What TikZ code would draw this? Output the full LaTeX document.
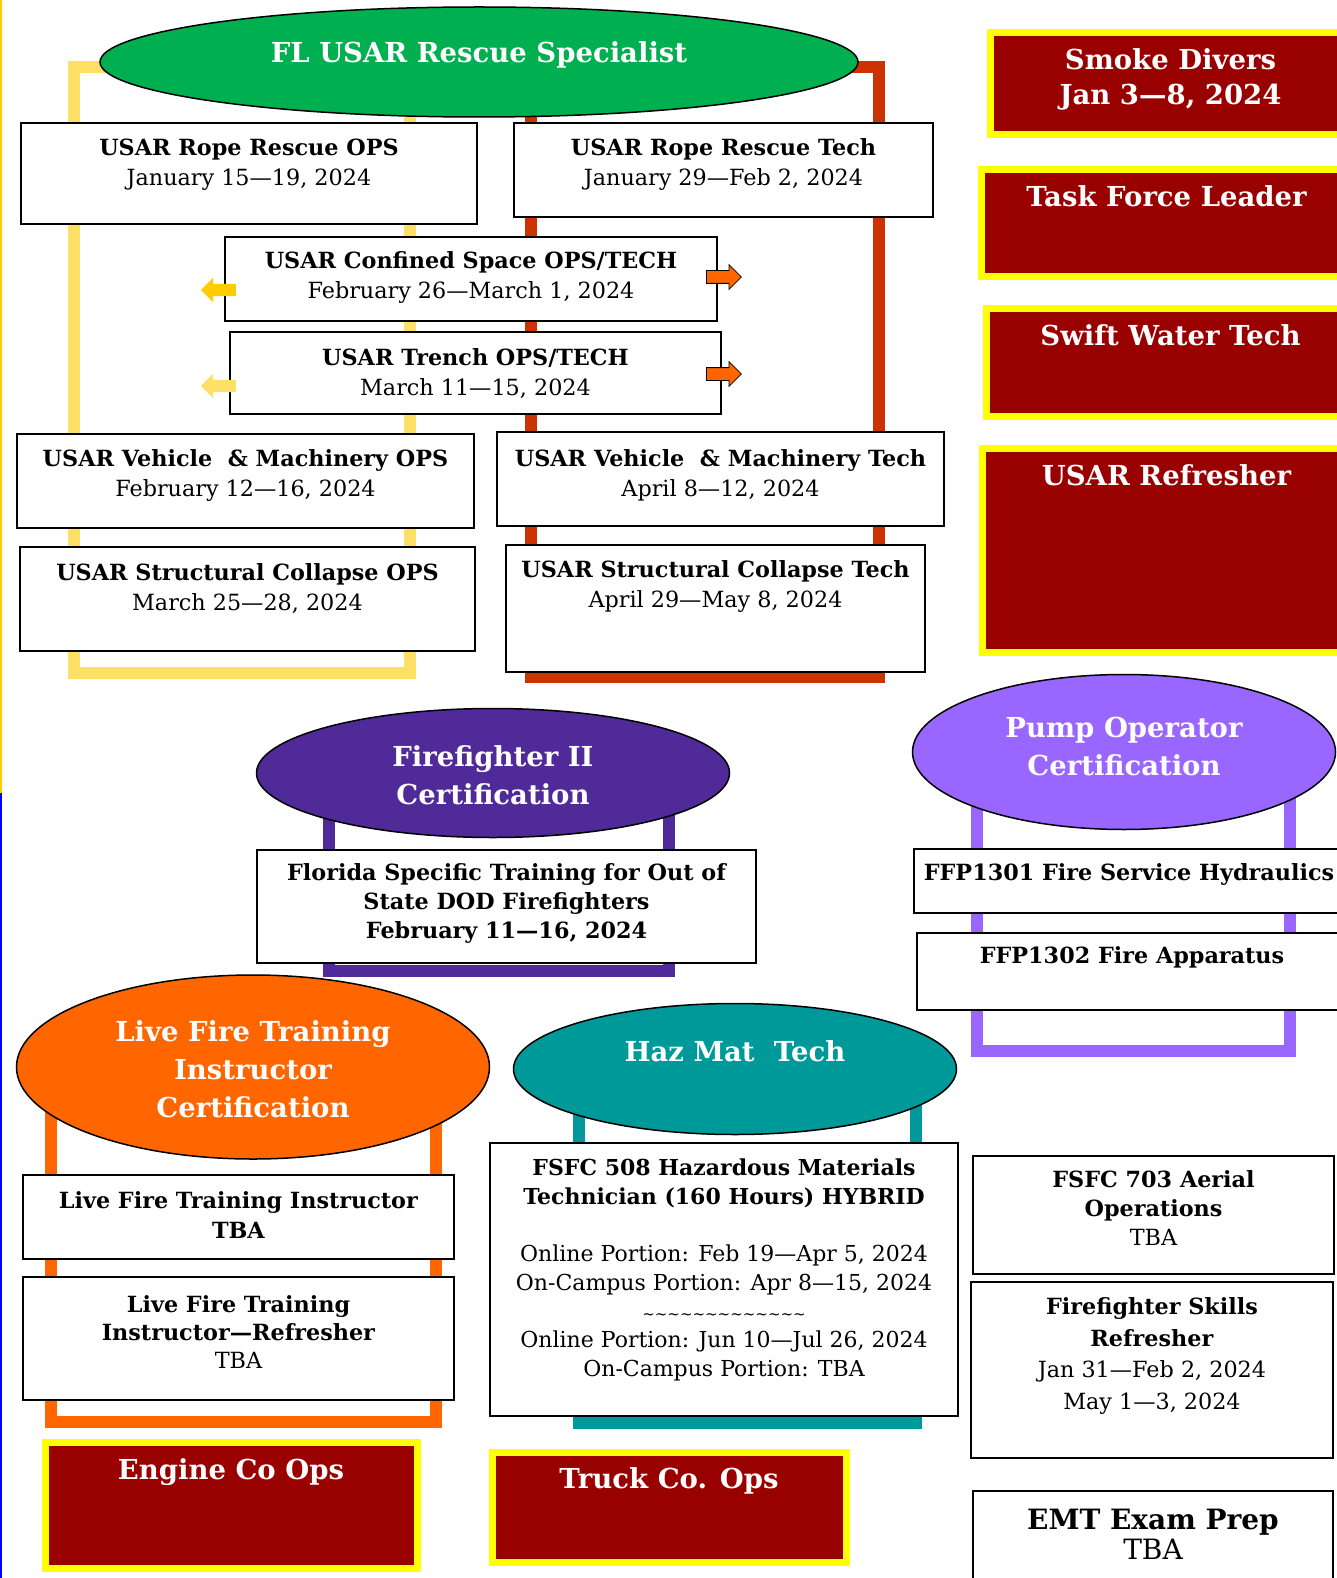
\documentclass[tikz,border=0pt]{standalone}
\usepackage{fontspec}
\setmainfont{DejaVu Serif}
\usetikzlibrary{shapes.geometric, shapes.arrows, positioning}

\definecolor{usargreen}{HTML}{00B050}
\definecolor{usaryellow}{HTML}{FFE066}
\definecolor{usarred}{HTML}{CC3300}
\definecolor{arrowgold}{HTML}{FFCC00}
\definecolor{arroworange}{HTML}{FF6600}
\definecolor{ffpurple}{HTML}{4F2A98}
\definecolor{pumppurple}{HTML}{9966FF}
\definecolor{lftorange}{HTML}{FF6600}
\definecolor{hazteal}{HTML}{009999}
\definecolor{promored}{HTML}{990000}
\definecolor{promoyellow}{HTML}{FFFF00}
\definecolor{edgegold}{HTML}{FFCC00}

\tikzset{
  bracket/.style={line width=12pt},
  course/.style={draw=black, line width=2pt, fill=white, anchor=north west, inner sep=0pt},
  coursetext/.style={align=center, inner sep=0pt, font=\fontsize{22.3}{30}\selectfont},
  cert/.style={ellipse, draw=black, line width=1.5pt, inner sep=0pt},
  certtext/.style={align=center, inner sep=0pt, text=white, font=\bfseries\fontsize{27.5}{38}\selectfont},
  promo/.style={draw=promoyellow, line width=7pt, fill=promored, anchor=north west, inner sep=0pt},
  promotext/.style={align=center, inner sep=0pt, text=white, font=\bfseries\fontsize{27.5}{35}\selectfont},
  blockarrow/.style={single arrow, inner sep=0pt, text height=6pt, text depth=6pt,
    minimum height=35pt, single arrow head extend=6pt, anchor=tail},
  leftarrow/.style={blockarrow, shape border rotate=180},
  rightarrow/.style={blockarrow, draw=black, line width=0.8pt, fill=arroworange}
}

\begin{document}
\begin{tikzpicture}[x=1pt, y=-1pt]
  \useasboundingbox (0,0) rectangle (1336,1578);

  % page edge
  \draw[line width=2.5pt, edgegold] (1,0) -- (1,793);
  \draw[line width=2.5pt, blue] (1,793) -- (1,1578);

  % frames behind the groups
  \draw[bracket, usaryellow] (74,67) rectangle (410,673);
  \draw[bracket, usarred] (531,67) rectangle (879,677);
  \draw[bracket, ffpurple] (329,790) rectangle (669,971);
  \draw[bracket, pumppurple] (977,752) rectangle (1290,1051);
  \draw[bracket, lftorange] (51,1067) rectangle (436,1422);
  \draw[bracket, hazteal] (579,1069) rectangle (916,1423);

  % FL USAR
  \node[cert, fill=usargreen, minimum width=758, minimum height=110] (usar) at (479,62) {};
  \node[certtext] at ([yshift=7]usar.center) {FL USAR Rescue Specialist};

  \node[course, minimum width=456, minimum height=101] (ropeops) at (20,122) {};
  \node[coursetext] at ([yshift=-42.5]ropeops.north) {\textbf{USAR Rope Rescue OPS}\\January 15\textemdash19, 2024};
  \node[course, minimum width=419, minimum height=94] (ropetech) at (513,122) {};
  \node[coursetext] at ([yshift=-42.5]ropetech.north) {\textbf{USAR Rope Rescue Tech}\\January 29\textemdash Feb 2, 2024};

  \node[course, minimum width=492, minimum height=84] (confined) at (224,236) {};
  \node[coursetext] at ([yshift=-42]confined.north) {\textbf{USAR Confined Space OPS/TECH}\\February 26\textemdash March 1, 2024};
  \node[leftarrow, fill=arrowgold] (confleft) at ([xshift=12, yshift=-11]confined.west) {};
  \node[rightarrow] (confright) at ([xshift=-12, yshift=2]confined.east) {};

  \node[course, minimum width=491, minimum height=82] (trench) at (229,331) {};
  \node[coursetext] at ([yshift=-43]trench.north) {\textbf{USAR Trench OPS/TECH}\\March 11\textemdash15, 2024};
  \node[leftarrow, fill=usaryellow] (trenchleft) at ([xshift=7, yshift=-13]trench.west) {};
  \node[rightarrow] (trenchright) at ([xshift=-16, yshift=-1]trench.east) {};

  \node[course, minimum width=457, minimum height=94] (vehops) at (16,433) {};
  \node[coursetext] at ([yshift=-43]vehops.north) {\textbf{USAR Vehicle \ \& Machinery OPS}\\February 12\textemdash16, 2024};
  \node[course, minimum width=447, minimum height=94] (vehtech) at (496,431) {};
  \node[coursetext] at ([yshift=-44]vehtech.north) {\textbf{USAR Vehicle \ \& Machinery Tech}\\April 8\textemdash12, 2024};

  \node[course, minimum width=455, minimum height=104] (structops) at (19,546) {};
  \node[coursetext] at ([yshift=-43]structops.north) {\textbf{USAR Structural Collapse OPS}\\March 25\textemdash28, 2024};
  \node[course, minimum width=419, minimum height=127] (structtech) at (505,544) {};
  \node[coursetext] at ([yshift=-43]structtech.north) {\textbf{USAR Structural Collapse Tech}\\April 29\textemdash May 8, 2024};

  % right column
  \node[promo, minimum width=361, minimum height=102] (smoke) at (986.5,29.5) {};
  \node[promotext] at ([yshift=-50]smoke.north) {Smoke Divers\\Jan 3\textemdash8, 2024};
  \node[promo, minimum width=371, minimum height=107] (taskforce) at (977.5,166.5) {};
  \node[promotext] at ([yshift=-30]taskforce.north) {Task Force Leader};
  \node[promo, minimum width=369, minimum height=107] (swift) at (982.5,305.5) {};
  \node[promotext] at ([yshift=-29.5]swift.north) {Swift Water Tech};
  \node[promo, minimum width=369, minimum height=204] (usarref) at (978.5,444.5) {};
  \node[promotext] at ([yshift=-30.5]usarref.north) {USAR Refresher};

  % Firefighter II
  \node[cert, fill=ffpurple, minimum width=473, minimum height=129] (ff2) at (493,773) {};
  \node[certtext] at ([yshift=-2]ff2.center) {Firefighter II\\Certification};
  \node[course, minimum width=499, minimum height=113] (fstrain) at (256,849) {};
  \node[coursetext, font=\bfseries\fontsize{22.3}{29}\selectfont] at ([yshift=-54]fstrain.north)
    {Florida Specific Training for Out of\\State DOD Firefighters\\February 11\textemdash16, 2024};

  % Pump Operator
  \node[cert, fill=pumppurple, minimum width=423, minimum height=155] (pump) at (1124,752) {};
  \node[certtext] at ([yshift=6]pump.center) {Pump Operator\\Certification};
  \node[course, minimum width=430, minimum height=64] (ffp1301) at (913,848) {};
  \node[coursetext] at ([yshift=-26]ffp1301.north) {\textbf{FFP1301 Fire Service Hydraulics}};
  \node[course, minimum width=430, minimum height=77] (ffp1302) at (916,932) {};
  \node[coursetext] at ([yshift=-25]ffp1302.north) {\textbf{FFP1302 Fire Apparatus}};

  % Live Fire
  \node[cert, fill=lftorange, minimum width=473, minimum height=184] (lft) at (253,1067) {};
  \node[certtext] at ([yshift=-2]lft.center) {Live Fire Training\\Instructor\\Certification};
  \node[course, minimum width=431, minimum height=84] (lftinst) at (22,1174) {};
  \node[coursetext] at ([yshift=-41.5]lftinst.north) {\textbf{Live Fire Training Instructor}\\\textbf{TBA}};
  \node[course, minimum width=431, minimum height=123] (lftref) at (22,1276) {};
  \node[coursetext, font=\fontsize{22.3}{28}\selectfont] at ([yshift=-56]lftref.north)
    {\textbf{Live Fire Training}\\\textbf{Instructor\textemdash Refresher}\\TBA};

  % Haz Mat
  \node[cert, fill=hazteal, minimum width=443, minimum height=131] (haz) at (735,1069) {};
  \node[certtext] at ([yshift=18]haz.center) {Haz Mat\ \ Tech};
  \node[course, minimum width=468, minimum height=273] (haz508) at (489,1142) {};
  \node[coursetext, font=\fontsize{22}{28.7}\selectfont] at ([yshift=-128]haz508.north)
    {\textbf{FSFC 508 Hazardous Materials}\\\textbf{Technician (160 Hours) HYBRID}\\[28.7pt]
     Online Portion: Feb 19\textemdash Apr 5, 2024\\On-Campus Portion: Apr 8\textemdash15, 2024\\
     {\fontsize{15}{15}\selectfont\textasciitilde\textasciitilde\textasciitilde\textasciitilde\textasciitilde\textasciitilde\textasciitilde\textasciitilde\textasciitilde\textasciitilde\textasciitilde\textasciitilde\textasciitilde}\\
     Online Portion: Jun 10\textemdash Jul 26, 2024\\On-Campus Portion: TBA};

  % bottom right
  \node[course, minimum width=361, minimum height=118] (aerial) at (972,1155) {};
  \node[coursetext, font=\fontsize{22.3}{29}\selectfont] at ([yshift=-53]aerial.north)
    {\textbf{FSFC 703 Aerial}\\\textbf{Operations}\\TBA};
  \node[course, minimum width=362, minimum height=176] (skills) at (970,1281) {};
  \node[coursetext, font=\fontsize{22.3}{31.7}\selectfont] at ([yshift=-75]skills.north)
    {\textbf{Firefighter Skills}\\\textbf{Refresher}\\Jan 31\textemdash Feb 2, 2024\\May 1\textemdash3, 2024};
  \node[course, minimum width=360, minimum height=110] (emt) at (972,1490) {};
  \node[coursetext, font=\fontsize{28}{30}\selectfont] at ([yshift=-44]emt.north)
    {\textbf{EMT Exam Prep}\\TBA};

  % bottom promos
  \node[promo, minimum width=372, minimum height=126] (engine) at (41.5,1438.5) {};
  \node[promotext] at ([yshift=-33.5]engine.north) {Engine Co Ops};
  \node[promo, minimum width=354, minimum height=110] (truck) at (488.5,1448.5) {};
  \node[promotext] at ([yshift=-32.5]truck.north) {Truck Co. Ops};
\end{tikzpicture}
\end{document}
